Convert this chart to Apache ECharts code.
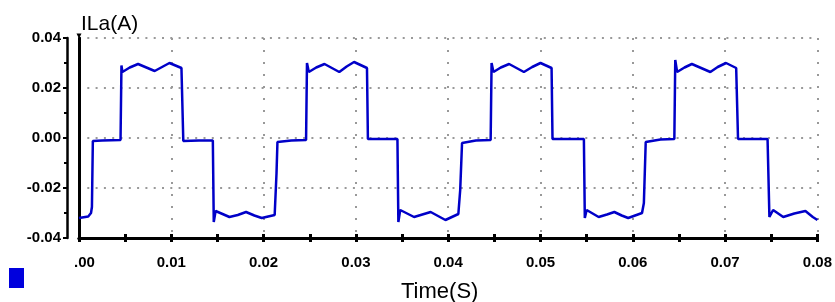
<!DOCTYPE html>
<html>
<head>
<meta charset="utf-8">
<script src="https://cdn.jsdelivr.net/npm/echarts@6/dist/echarts.min.js"></script>
<style>
  html, body { margin: 0; padding: 0; background: #fff; }
  #chart { width: 835px; height: 302px; }
</style>
</head>
<body>
<div id="chart"></div>
<script>
// time (s)
const timeS = [
  0.0000, 0.0010, 0.0013, 0.0014, 0.0015, 0.0025, 0.0045, 0.0046, 0.0047, 0.0055,
  0.0064, 0.0073, 0.0082, 0.0090, 0.0098, 0.0111, 0.0113, 0.0130, 0.0145, 0.0146,
  0.0148, 0.0163, 0.0172, 0.0181, 0.0190, 0.0198, 0.0212, 0.0214, 0.0215, 0.0230,
  0.0246, 0.0247, 0.0249, 0.0257, 0.0266, 0.0274, 0.0282, 0.0290, 0.0298, 0.0312,
  0.0313, 0.0330, 0.0345, 0.0346, 0.0348, 0.0363, 0.0372, 0.0381, 0.0389, 0.0397,
  0.0411, 0.0413, 0.0415, 0.0430, 0.0446, 0.0447, 0.0449, 0.0457, 0.0466, 0.0474,
  0.0482, 0.0491, 0.0500, 0.0512, 0.0513, 0.0530, 0.0547, 0.0548, 0.0550, 0.0563,
  0.0572, 0.0580, 0.0588, 0.0595, 0.0610, 0.0612, 0.0614, 0.0630, 0.0645, 0.0646,
  0.0648, 0.0656, 0.0664, 0.0674, 0.0684, 0.0692, 0.0701, 0.0712, 0.0714, 0.0730,
  0.0746, 0.0748, 0.0752, 0.0763, 0.0775, 0.0787, 0.0795, 0.0800
];
// phase current ILa (A)
const iLa = [
  -0.0320, -0.0314, -0.0300, -0.0276, -0.0012, -0.0010, -0.0008, 0.0290, 0.0264, 0.0282,
  0.0296, 0.0282, 0.0268, 0.0284, 0.0300, 0.0280, -0.0012, -0.0010, -0.0010, -0.0336,
  -0.0292, -0.0316, -0.0308, -0.0296, -0.0310, -0.0320, -0.0308, -0.0140, -0.0016, -0.0010,
  -0.0008, 0.0300, 0.0264, 0.0282, 0.0296, 0.0280, 0.0264, 0.0286, 0.0304, 0.0280,
  -0.0004, -0.0004, -0.0004, -0.0336, -0.0288, -0.0316, -0.0306, -0.0296, -0.0312, -0.0328,
  -0.0304, -0.0208, -0.0020, -0.0010, -0.0008, 0.0300, 0.0264, 0.0282, 0.0296, 0.0280,
  0.0264, 0.0284, 0.0300, 0.0280, -0.0004, -0.0004, -0.0004, -0.0320, -0.0288, -0.0316,
  -0.0306, -0.0296, -0.0310, -0.0320, -0.0300, -0.0260, -0.0016, -0.0006, -0.0004, 0.0312,
  0.0264, 0.0282, 0.0296, 0.0280, 0.0264, 0.0284, 0.0300, 0.0280, -0.0004, -0.0004,
  -0.0004, -0.0316, -0.0288, -0.0316, -0.0302, -0.0292, -0.0316, -0.0328
];
const xTicks = ['.00', '0.01', '0.02', '0.03', '0.04', '0.05', '0.06', '0.07', '0.08'];
const yTicks = ['-0.04', '-0.02', '0.00', '0.02', '0.04'];

const chart = echarts.init(document.getElementById('chart'));

const tickFont = {
  color: '#000',
  fontSize: 15,
  fontWeight: 'bold',
  fontFamily: '"Liberation Sans", Arial, sans-serif'
};

const option = {
  animation: false,
  backgroundColor: '#fff',
  grid: { left: 79, right: 15, top: 38, bottom: 64 },
  graphic: [
    {
      type: 'text', left: 81, top: 14,
      style: { text: 'ILa(A)', fontSize: 21, fontFamily: 'Liberation Sans, Arial, sans-serif', fill: '#000' }
    },
    {
      type: 'text', left: 401, top: 281,
      style: { text: 'Time(S)', fontSize: 22, fontFamily: 'Liberation Sans, Arial, sans-serif', fill: '#000' }
    },
    {
      type: 'rect', left: 9, top: 268,
      shape: { width: 15, height: 20 },
      style: { fill: '#0000dd' }
    }
  ],
  xAxis: [
    {
      type: 'value', position: 'bottom', min: 0, max: 0.08, interval: 0.01,
      axisLine: { onZero: false, lineStyle: { color: '#000', width: 3 } },
      axisTick: { show: true, length: 4, lineStyle: { color: '#000', width: 3 } },
      minorTick: { show: true, splitNumber: 2, length: 4, lineStyle: { color: '#000', width: 3 } },
      axisLabel: Object.assign({
        margin: 17,
        formatter: function (v) {
          const i = Math.round(v * 100);
          return i === 0 ? '{z|' + xTicks[0] + '}' : xTicks[i];
        },
        rich: { z: Object.assign({ padding: [0, 0, 0, 11] }, tickFont) }
      }, tickFont),
      splitLine: { show: true, lineStyle: { color: '#999', width: 2, type: [2, 10] } }
    },
    {
      type: 'value', position: 'bottom', min: 0, max: 0.08, interval: 0.005,
      axisLine: { onZero: false, lineStyle: { color: '#000', width: 3 } },
      axisTick: { show: true, inside: true, length: 4, lineStyle: { color: '#000', width: 3 } },
      axisLabel: { show: false },
      splitLine: { show: false }
    }
  ],
  yAxis: [
    {
      type: 'value', position: 'left', min: -0.04, max: 0.04, interval: 0.02, offset: 12,
      axisLine: { show: true, onZero: false, lineStyle: { color: '#000', width: 2.5 } },
      axisTick: { show: true, length: 4, lineStyle: { color: '#000', width: 2 } },
      minorTick: { show: true, splitNumber: 2, length: 3, lineStyle: { color: '#000', width: 2 } },
      axisLabel: Object.assign({
        margin: 6,
        formatter: function (v) { return yTicks[Math.round(v * 50) + 2]; }
      }, tickFont),
      splitLine: { show: false }
    },
    {
      type: 'value', position: 'left', min: -0.04, max: 0.04, interval: 0.02,
      axisLine: {
        show: true, onZero: false,
        symbol: ['none', 'path://M0,0 L10,0 L5,10 Z'],
        symbolSize: [7, 5],
        symbolOffset: [0, 2],
        lineStyle: { color: '#000', width: 3 }
      },
      axisTick: { show: false },
      axisLabel: { show: false },
      splitLine: { show: true, lineStyle: { color: '#999', width: 2, type: [2, 6.3] } }
    }
  ],
  series: [
    {
      type: 'line',
      xAxisIndex: 0,
      yAxisIndex: 1,
      data: timeS.map((t, i) => [t, iLa[i]]),
      showSymbol: false,
      lineStyle: { color: '#0000c8', width: 2.5 },
      z: 5
    }
  ]
};

chart.setOption(option);
</script>
</body>
</html>
